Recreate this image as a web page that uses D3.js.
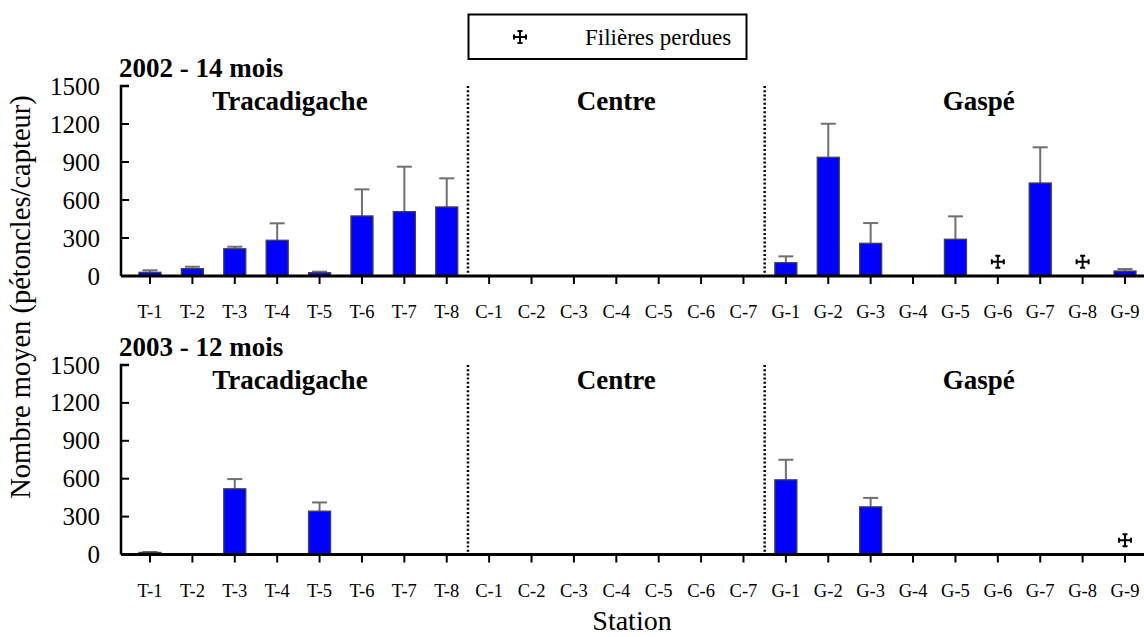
<!DOCTYPE html>
<html><head><meta charset="utf-8">
<script src="https://cdn.jsdelivr.net/npm/d3@7"></script>
<style>body{margin:0;background:#fff}</style>
</head><body>
<svg id="c" width="1144" height="637"></svg>
<script>
const stations = ["T-1","T-2","T-3","T-4","T-5","T-6","T-7","T-8","C-1","C-2","C-3","C-4","C-5","C-6","C-7","G-1","G-2","G-3","G-4","G-5","G-6","G-7","G-8","G-9"];
const yTicks = [0,300,600,900,1200,1500];
// null = filière perdue
const mean2002 = [29,58,215,282,26,474,508,545, 0,0,0,0,0,0,0, 105,937,258,0,290,null,734,null,39];
const err2002  = [16,15,16,134,8,210,355,226, 0,0,0,0,0,0,0, 50,265,160,0,181,null,282,null,16];
const mean2003 = [16,0,520,0,343,0,0,0, 0,0,0,0,0,0,0, 591,0,377,0,0,0,0,0,null];
const err2003  = [4,0,77,0,69,0,0,0, 0,0,0,0,0,0,0, 159,0,71,0,0,0,0,0,null];
const regions = ["Tracadigache","Centre","Gaspé"];
const regionPos = [3.3, 11.0, 19.55];   // label anchor in station-index units
const dividers = [7.5, 14.5];
const panels = [
  {title:"2002 - 14 mois", mean:mean2002, err:err2002},
  {title:"2003 - 12 mois", mean:mean2003, err:err2003}
];
const lostMarkValue = 113;
const FONT = "'Liberation Serif', 'Times New Roman', Tinos, Times, serif";

const svg = d3.select("#c");
const x = d3.scalePoint().domain(stations).range([150,1125]);
const idx = d3.scaleLinear().domain([0,23]).range([150,1125]);
const barW = 22;
const axisLeft = 121, axisRight = 1144;
const panelGeo = [{top:86,bottom:276},{top:365,bottom:554.5}];

function txt(g){ return g.append("text").attr("font-family", FONT).attr("fill","#000"); }

function crossPath(g, cx, cy){
  const s = 6, e = 2.5;
  g.append("path")
    .attr("d", `M${cx-s},${cy}H${cx+s}M${cx},${cy-s}V${cy+s}`+
      `M${cx-s},${cy-e}V${cy+e}M${cx+s},${cy-e}V${cy+e}M${cx-e},${cy-s}H${cx+e}M${cx-e},${cy+s}H${cx+e}`)
    .attr("stroke","#000").attr("stroke-width",2).attr("fill","none");
}

panels.forEach((p,pi)=>{
  const geo = panelGeo[pi];
  const y = d3.scaleLinear().domain([0,1500]).range([geo.bottom, geo.top]);
  const g = svg.append("g");

  dividers.forEach(d=>{
    g.append("line").attr("x1",idx(d)).attr("x2",idx(d))
      .attr("y1",y(1500)).attr("y2",y(0))
      .attr("stroke","#000").attr("stroke-width",2.5).attr("stroke-dasharray","2,2.2");
  });

  stations.forEach((s,i)=>{
    const m = p.mean[i], e = p.err[i];
    if(m==null || !(m>0) || !(e>0)) return;
    const cx = x(s);
    g.append("line").attr("x1",cx).attr("x2",cx).attr("y1",y(m)).attr("y2",y(m+e))
      .attr("stroke","#707070").attr("stroke-width",2);
    g.append("line").attr("x1",cx-7.5).attr("x2",cx+7.5).attr("y1",y(m+e)).attr("y2",y(m+e))
      .attr("stroke","#707070").attr("stroke-width",2);
  });

  g.selectAll("rect.bar").data(stations.map((s,i)=>({s,v:p.mean[i]})).filter(d=>d.v!=null && d.v>0))
    .join("rect").attr("class","bar")
    .attr("x",d=>x(d.s)-barW/2).attr("width",barW)
    .attr("y",d=>y(d.v)).attr("height",d=>y(0)-y(d.v))
    .attr("fill","#0000ff").attr("stroke","#404040").attr("stroke-width",1.3);

  stations.forEach((s,i)=>{ if(p.mean[i]==null) crossPath(g, x(s), y(lostMarkValue)); });

  g.append("path").attr("d",`M${axisLeft+8},${y(1500)}H${axisLeft}V${y(0)}`)
    .attr("stroke","#000").attr("stroke-width",2.5).attr("fill","none");
  yTicks.forEach(t=>{
    if(t>0 && t<1500) g.append("line").attr("x1",axisLeft).attr("x2",axisLeft+8).attr("y1",y(t)).attr("y2",y(t))
      .attr("stroke","#000").attr("stroke-width",2);
    txt(g).attr("x",100).attr("y",y(t)).attr("dy","0.34em").attr("text-anchor","end")
      .attr("font-size",25).text(t);
  });

  g.append("line").attr("x1",axisLeft).attr("x2",axisRight).attr("y1",y(0)).attr("y2",y(0))
    .attr("stroke","#000").attr("stroke-width",3);
  stations.forEach(s=>{
    g.append("line").attr("x1",x(s)).attr("x2",x(s)).attr("y1",y(0)).attr("y2",y(0)+8)
      .attr("stroke","#000").attr("stroke-width",2);
    txt(g).attr("x",x(s)).attr("y",y(0)+42).attr("text-anchor","middle")
      .attr("font-size",18.5).text(s);
  });

  txt(g).attr("x",119).attr("y",geo.top-9).attr("font-size",27).attr("font-weight","bold").text(p.title);
  regions.forEach((r,ri)=>{
    txt(g).attr("x",idx(regionPos[ri])).attr("y",geo.top+24).attr("text-anchor","middle")
      .attr("font-size",27).attr("font-weight","bold").text(r);
  });
});

txt(svg).attr("transform","translate(30,297) rotate(-90)").attr("text-anchor","middle")
  .attr("font-size",28.5).text("Nombre moyen (pétoncles/capteur)");
txt(svg).attr("x",632).attr("y",630).attr("text-anchor","middle").attr("font-size",28).text("Station");

const lg = svg.append("g");
lg.append("rect").attr("x",468.5).attr("y",14.5).attr("width",278).attr("height",44.5)
  .attr("fill","#fff").attr("stroke","#000").attr("stroke-width",2);
crossPath(lg, 520, 37);
txt(lg).attr("x",585).attr("y",44.5).attr("font-size",23).text("Filières perdues");
</script>
</body></html>
